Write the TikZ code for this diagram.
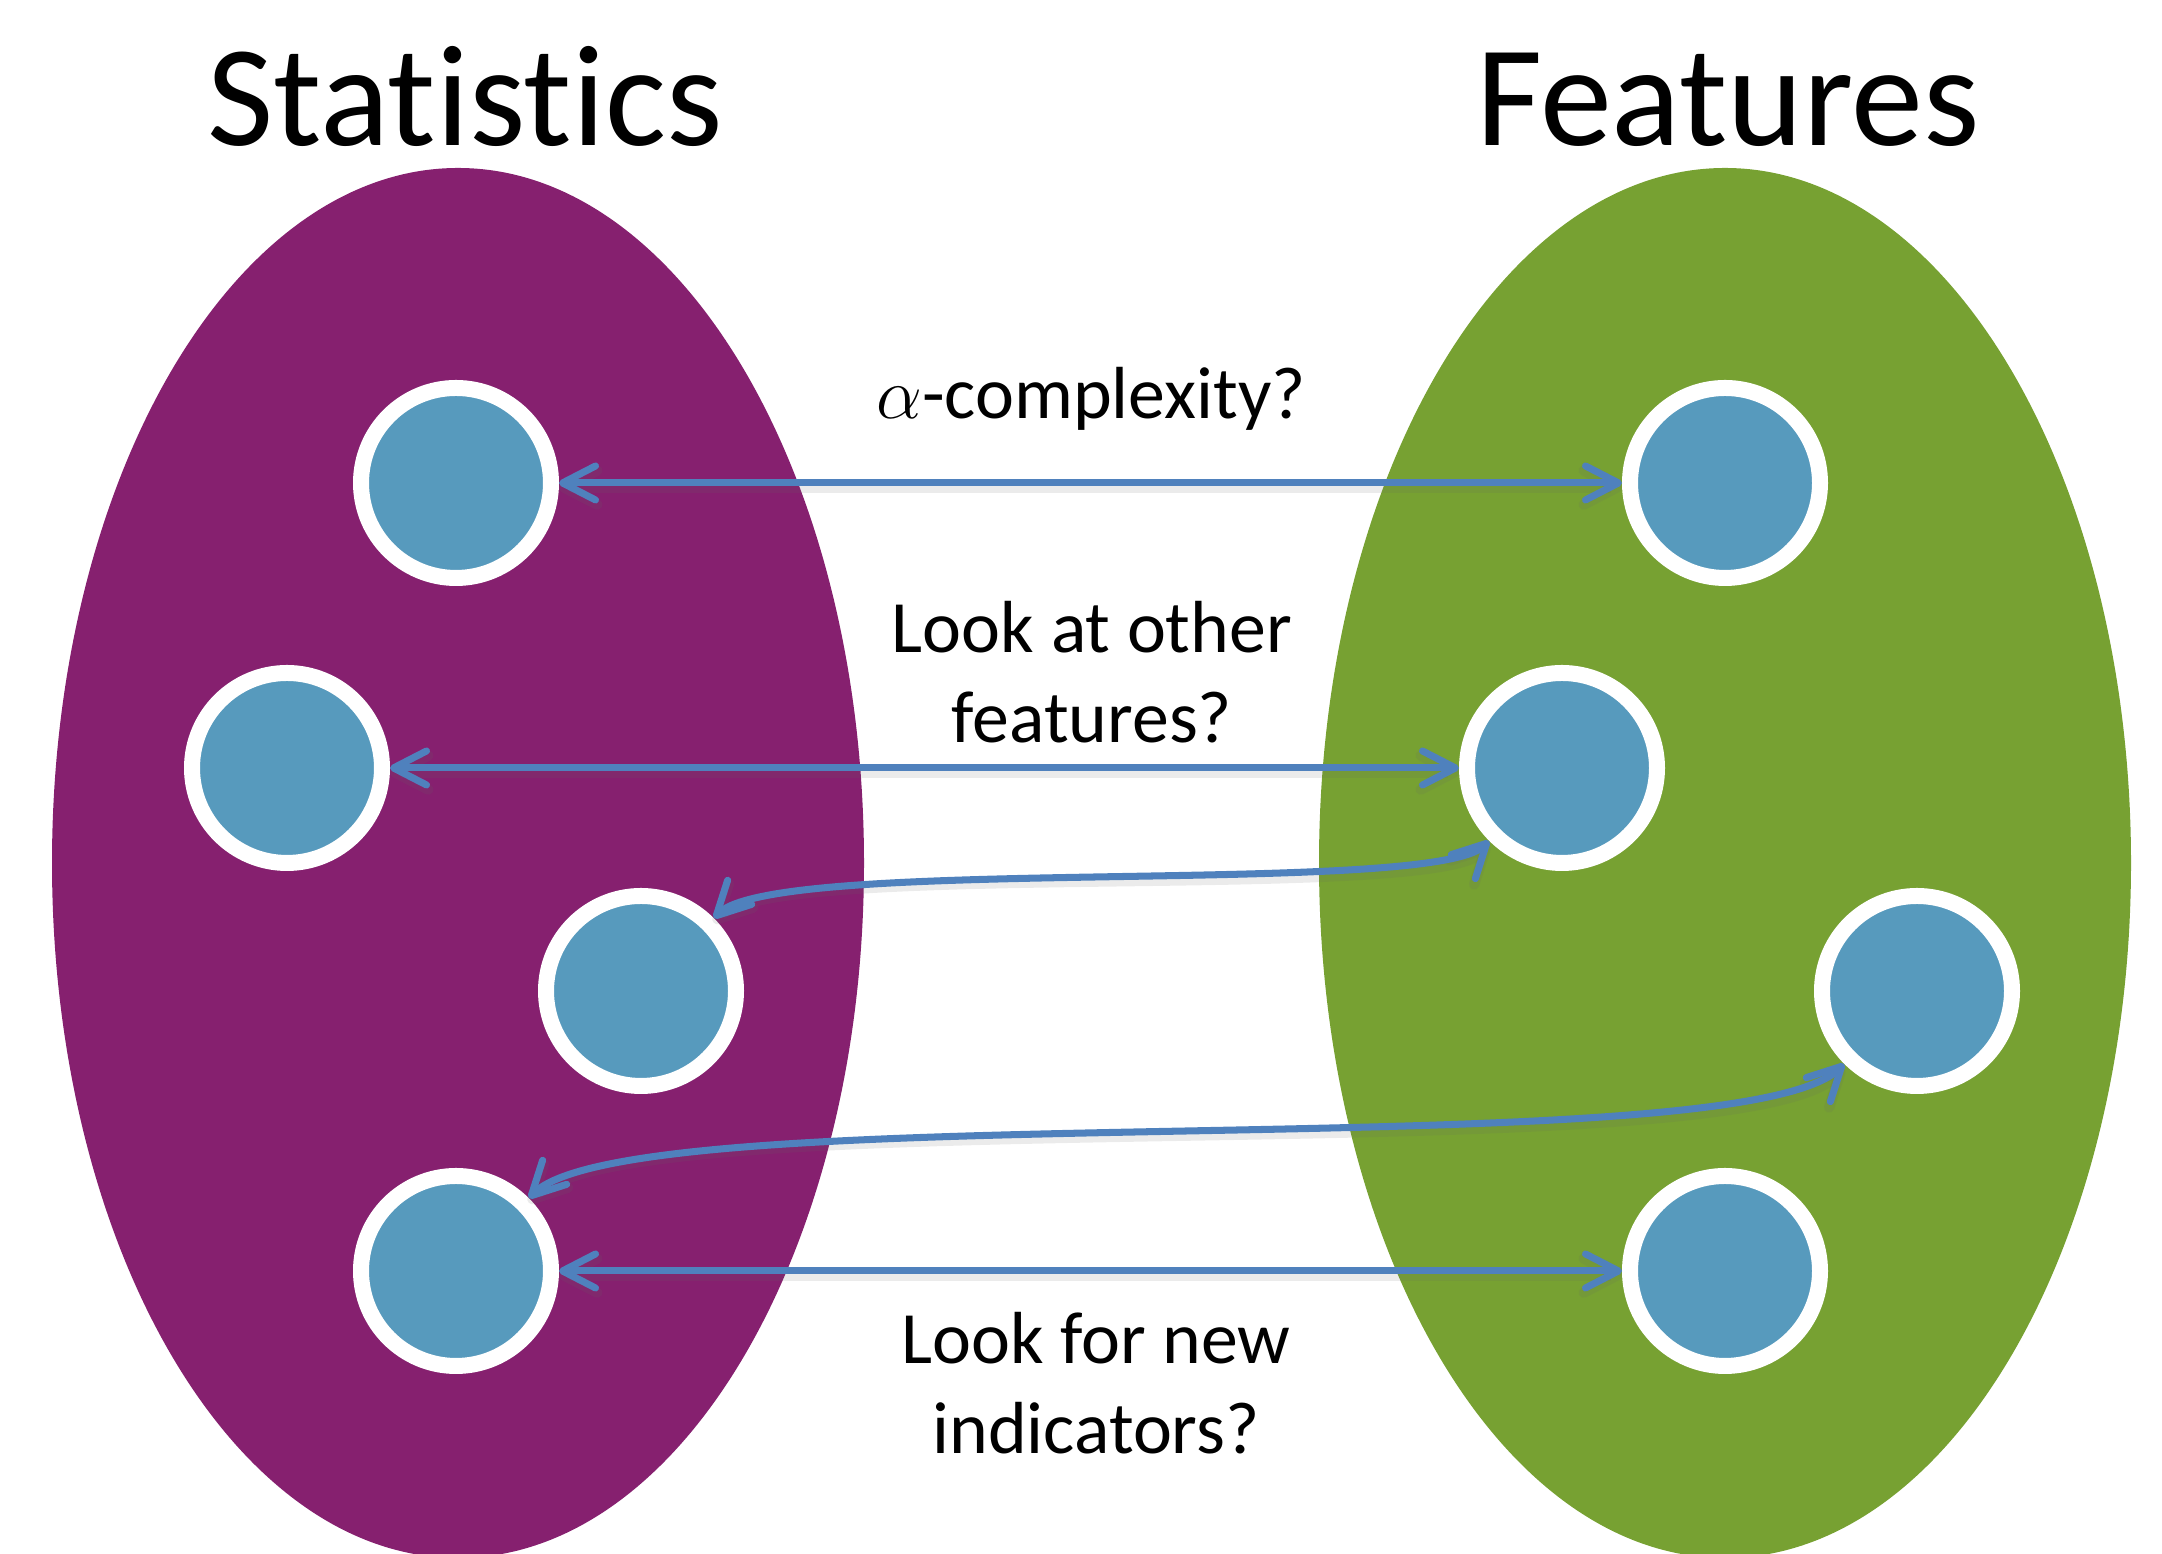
\documentclass[tikz,border=0pt]{standalone}
\usepackage{fontspec}
\setmainfont{Carlito}[Ligatures=NoCommon]
\usetikzlibrary{arrows.meta}

\definecolor{plum}{HTML}{86206F}
\definecolor{leaf}{HTML}{77A132}
\definecolor{dotblue}{HTML}{579ABD}
\definecolor{linkblue}{HTML}{4F81BD}

\begin{document}
\begin{tikzpicture}[
        item/.style={circle, fill=dotblue, draw=white, line width=0.16cm, minimum size=1.9cm, inner sep=0pt},
        link/.style={{Straight Barb[length=3.3mm,width=3.4mm,round]}-{Straight Barb[length=3.3mm,width=3.4mm,round]},
            draw=linkblue, line width=2pt, line cap=round,
            preaction={draw=black!60, opacity=0.13, line width=3pt, transform canvas={yshift=-1.3pt}}},
        title/.style={font=\fontsize{41}{49}\selectfont, anchor=base},
        note/.style={font=\fontsize{21}{25.5}\selectfont, align=center}
    ]
        \useasboundingbox (0,0) rectangle (21.62,15.54);

        % Sets
        \fill[plum] (4.58,6.91) ellipse [x radius=4.06, y radius=6.95];
        \fill[leaf] (17.25,6.91) ellipse [x radius=4.06, y radius=6.95];

        % Titles
        \node[title] (stats) at (4.65,14.08) {Statistics};
        \node[title] (feats) at (17.28,14.08) {Features};

        % Nodes
        \node[item] (s1) at (4.56,10.71) {};
        \node[item] (s2) at (2.87,7.86) {};
        \node[item] (s3) at (6.41,5.63) {};
        \node[item] (s4) at (4.56,2.83) {};

        \node[item] (f1) at (17.25,10.71) {};
        \node[item] (f2) at (15.62,7.86) {};
        \node[item] (f3) at (19.17,5.63) {};
        \node[item] (f4) at (17.25,2.83) {};

        % Edges
        \draw[link] (s1) -- (f1);
        \draw[link] (s2) -- (f2);
        \draw[link] (s3.45) .. controls +(45:0.9) and +(225:0.8) .. (f2.225);
        \draw[link] (s4.45) .. controls +(45:1.5) and +(225:1.5) .. (f3.225);
        \draw[link] (s4) -- (f4);

        % Questions
        \node[note, anchor=base] (q1) at (10.91,11.35) {$\alpha$-complexity?};
        \node[note] (q2) at (10.92,8.82) {Look at other\\features?};
        \node[note] (q3) at (10.96,1.71) {Look for new\\indicators?};
    \end{tikzpicture}
\end{document}
